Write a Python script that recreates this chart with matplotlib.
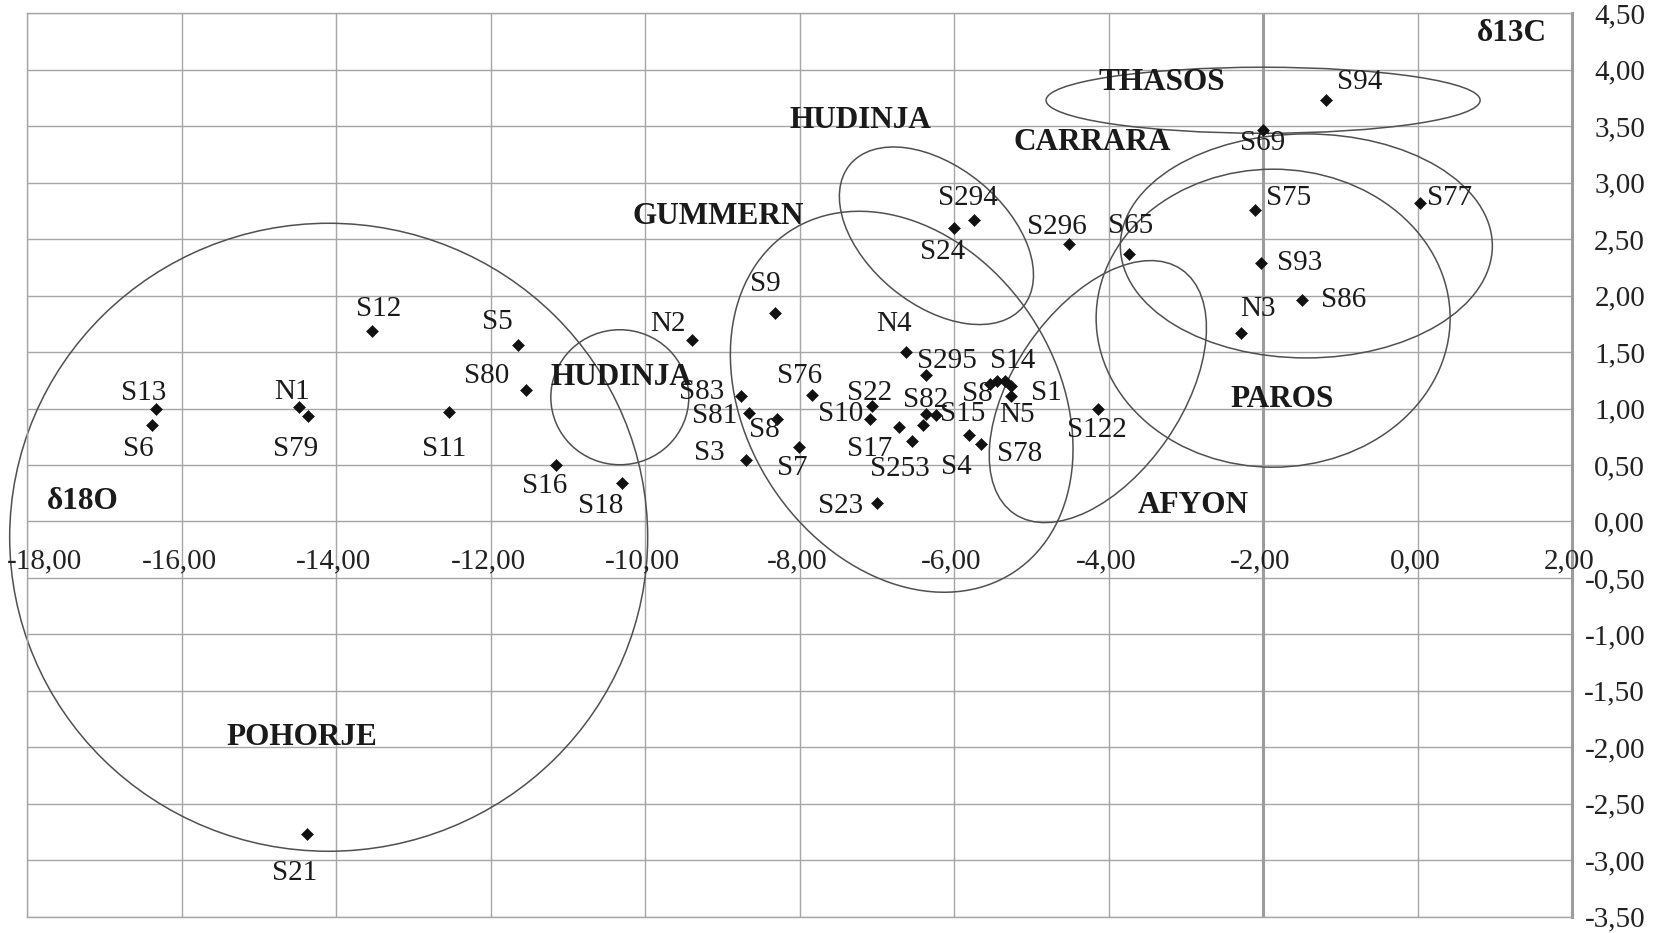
import numpy as np
import matplotlib
matplotlib.use('Agg')
import matplotlib.pyplot as plt
import matplotlib.transforms as mtransforms
from matplotlib.patches import Ellipse

plt.rcParams['font.family'] = ['Liberation Serif', 'DejaVu Serif']

# samples: d18O (x), d13C (y)
names = ['S13', 'S6', 'N1', 'S79', 'S12', 'S11', 'S5', 'S80', 'S16', 'S18',
         'S21', 'N2', 'S9', 'S83', 'S81', 'S8', 'S3', 'S7', 'S76', 'S22',
         'S10', 'S17', 'S253', '', 'S82', 'S15', 'N4', 'S295', 'S4', 'S78',
         'S8', '', 'S14', 'S1', 'N5', 'S23', 'S24', 'S294', 'S296', 'S65',
         'S122', 'N3', 'S75', 'S93', 'S86', 'S69', 'S94', 'S77']
d18o = [-16.34, -16.39, -14.49, -14.37, -13.54, -12.54, -11.65, -11.54, -11.16, -10.30,
        -14.38, -9.40, -8.32, -8.76, -8.66, -8.30, -8.69, -8.01, -7.84, -7.06,
        -7.09, -6.71, -6.55, -6.41, -6.36, -6.23, -6.63, -6.36, -5.81, -5.65,
        -5.54, -5.44, -5.34, -5.27, -5.27, -7.00, -6.00, -5.74, -4.51, -3.74,
        -4.14, -2.28, -2.10, -2.03, -1.49, -2.00, -1.18, 0.03]
d13c = [1.00, 0.85, 1.01, 0.93, 1.69, 0.97, 1.56, 1.16, 0.50, 0.34,
        -2.77, 1.61, 1.85, 1.11, 0.96, 0.91, 0.54, 0.66, 1.12, 1.02,
        0.91, 0.84, 0.71, 0.85, 0.95, 0.94, 1.50, 1.30, 0.77, 0.69,
        1.22, 1.24, 1.24, 1.20, 1.11, 0.16, 2.60, 2.67, 2.46, 2.37,
        1.00, 1.67, 2.76, 2.29, 1.96, 3.47, 3.73, 2.82]

xticks = np.arange(-18, 3, 2)
yticks = np.arange(-3.5, 4.51, 0.5)

groups = ['POHORJE', 'HUDINJA', 'GUMMERN', 'HUDINJA', 'CARRARA', 'THASOS', 'PAROS', 'AFYON']

# layout: label offsets in pixels (right, down)
label_dx = [-12, -14, -7, -12, 7, -5, -21, -40, -11, -21,
            -12, -24, -10, -39, -34, -12, -37, -7, -13, -3,
            -29, -30, -12, 0, -1, 26, -12, 21, -12, 38,
            -12, 0, 8, 36, 6, -36, -12, -6, -12, 2,
            -1, 16, 33, 39, 41, 0, 33, 30]
label_dy = [-19, 21, -18, 30, -25, 34, -26, -17, 18, 20,
            36, -19, -32, -7, 0, 8, -10, 18, -22, -16,
            -8, 19, 25, 0, -17, -4, -31, -17, 29, 7,
            7, 0, -23, 4, 16, 0, 21, -25, -20, -31,
            18, -27, -15, -3, -3, 10, -21, -8]

group_lx = [-14.45, -10.31, -9.06, -7.22, -4.21, -3.31, -1.76, -2.90]
group_ly = [-1.88, 1.31, 2.73, 3.58, 3.39, 3.92, 1.11, 0.17]

# outlines: centre (data), semi-axes (px), angle (deg)
ell_x = [-14.10, -10.33, -6.68, -6.23, -1.44, -2.00, -1.87, -4.14]
ell_y = [-0.14, 1.10, 1.06, 2.53, 2.44, 3.73, 1.80, 1.15]
ell_a = [319, 69, 204, 112, 186, 217, 177, 148]
ell_b = [314, 67.5, 155, 69, 112, 33, 149, 84]
ell_ang = [0, 0, -56.6, -39.3, 0, 0, 0, 55.6]

W, H = 1656, 933
fig = plt.figure(figsize=(W / 100, H / 100), dpi=100)
ax = fig.add_axes([27.5 / W, (H - 916.7) / H, (1572 - 27.5) / W, (916.7 - 13.3) / H])
ax.set_xlim(-18, 2)
ax.set_ylim(-3.5, 4.5)

grid_c = '#a6a6a6'
ax.set_xticks(xticks)
ax.set_yticks(yticks)
ax.grid(True, color=grid_c, lw=1.0)
ax.set_axisbelow(True)
for s in ['left', 'top', 'bottom']:
    ax.spines[s].set_color(grid_c)
    ax.spines[s].set_linewidth(1.0)
ax.spines['right'].set_color('#9c9c9c')
ax.spines['right'].set_linewidth(2.2)
ax.axvline(-2, color='#9c9c9c', lw=2.2, zorder=0.9)

ax.tick_params(axis='x', length=0, labelbottom=False)
ax.yaxis.tick_right()
ax.tick_params(axis='y', length=0, pad=52.6, labelsize=21, colors='#222222')
ax.set_yticklabels([f'{v:.2f}'.replace('.', ',') for v in yticks], ha='right')

for xv in xticks:
    txt = f'{xv:.2f}'.replace('.', ',')
    if xv == xticks[0]:
        ax.annotate(txt, (xv, 0), xytext=(-14.8, -19.5), textcoords='offset points',
                    ha='left', va='top', fontsize=21, color='#222222')
    else:
        ax.annotate(txt, (xv, 0), xytext=(-2, -19.5), textcoords='offset points',
                    ha='center', va='top', fontsize=21, color='#222222')

for cx, cy, a, b, ang in zip(ell_x, ell_y, ell_a, ell_b, ell_ang):
    e = Ellipse((0, 0), 2 * a, 2 * b, angle=ang, fill=False, ec='#505050', lw=1.1,
                transform=mtransforms.ScaledTranslation(cx, cy, ax.transData),
                clip_on=False, zorder=2)
    ax.add_patch(e)

ax.plot(d18o, d13c, 'D', ms=6.2, color='#111111', mec='#111111', mew=0.4, zorder=4)

px2pt = 72 / fig.dpi
for n, x, y, dx, dy in zip(names, d18o, d13c, label_dx, label_dy):
    if n:
        ax.annotate(n, (x, y), xytext=(dx * px2pt, -dy * px2pt), textcoords='offset points',
                    ha='center', va='center_baseline', fontsize=21, color='#1a1a1a', zorder=5)

for g, x, y in zip(groups, group_lx, group_ly):
    ax.text(x, y, g, ha='center', va='center_baseline', fontsize=22.5,
            fontweight='bold', color='#1a1a1a', zorder=5)

ax.text(1.22, 4.35, 'δ13C', ha='center', va='center_baseline', fontsize=22.5,
        fontweight='bold', color='#1a1a1a')
ax.text(-17.29, 0.21, 'δ18O', ha='center', va='center_baseline', fontsize=22.5,
        fontweight='bold', color='#1a1a1a')

fig.savefig('out.png', dpi=100)
